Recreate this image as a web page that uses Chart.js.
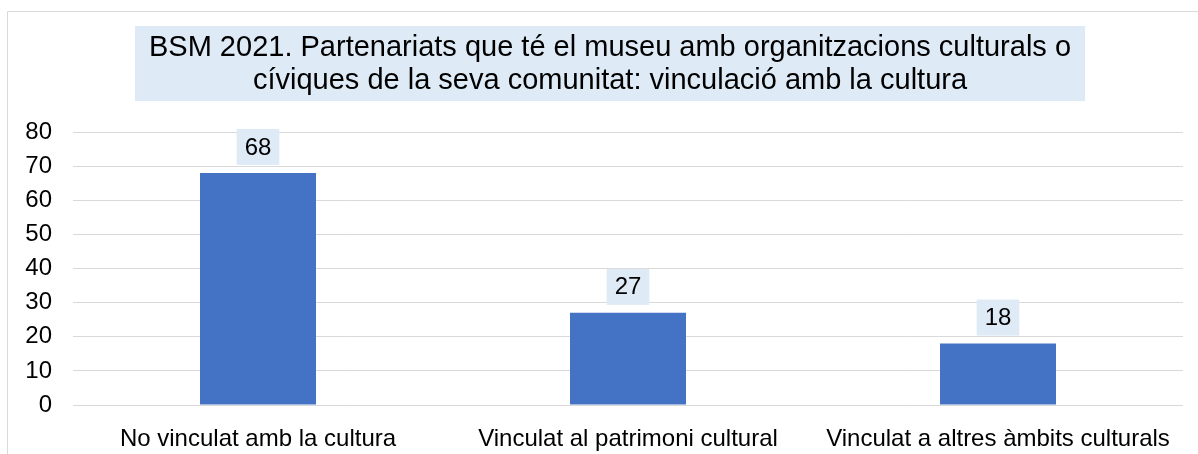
<!DOCTYPE html>
<html>
<head>
<meta charset="utf-8">
<script src="https://cdn.jsdelivr.net/npm/chart.js@4/dist/chart.umd.min.js"></script>
<style>
  body { margin: 0; background: #fff; }
  #wrap { position: relative; width: 1198px; height: 454px; }
</style>
</head>
<body>
<div id="wrap"><canvas id="plot1"></canvas></div>
<script>
const categories = ["No vinculat amb la cultura", "Vinculat al patrimoni cultural", "Vinculat a altres àmbits culturals"];
const values = [68, 27, 18];
const titleLines = ["BSM 2021. Partenariats que té el museu amb organitzacions culturals o", "cíviques de la seva comunitat: vinculació amb la cultura"];
const yTicks = [0, 10, 20, 30, 40, 50, 60, 70, 80];

const FONT = "'Liberation Sans', Arial, sans-serif";
const LIGHT_BLUE = "#DEEAF6";
const TITLE_SIZE = 29;
const TITLE_LINE = 33;

// outer frame (only top and left edges are visible in the picture)
const framePlugin = {
    id: "frame",
    beforeDraw(chart) {
        const ctx = chart.ctx;
        ctx.save();
        ctx.strokeStyle = "#d9d9d9";
        ctx.lineWidth = 1;
        ctx.beginPath();
        ctx.moveTo(7.5, chart.height);
        ctx.lineTo(7.5, 11.5);
        ctx.lineTo(chart.width, 11.5);
        ctx.stroke();
        ctx.restore();
    }
};

// move the title a bit to the right (as in the original) and shade a box behind it
const titleBoxPlugin = {
    id: "titleBox",
    afterLayout(chart) {
        const tb = chart.titleBlock;
        if (!tb) return;
        tb.left = chart.chartArea.left - 36;
        tb.right = chart.chartArea.right;
    },
    beforeDraw(chart) {
        const tb = chart.titleBlock;
        if (!tb) return;
        const ctx = chart.ctx;
        ctx.save();
        ctx.font = TITLE_SIZE + "px " + FONT;
        let w = 0;
        titleLines.forEach(l => { w = Math.max(w, ctx.measureText(l).width); });
        const cx = (tb.left + tb.right) / 2;
        const top = tb.top + tb.options.padding.top - 5;
        const h = titleLines.length * TITLE_LINE + 9;
        ctx.fillStyle = LIGHT_BLUE;
        ctx.fillRect(cx - w / 2 - 14, top, w + 28, h);
        ctx.restore();
    }
};

// value labels in small shaded boxes above the bars
const valueLabelPlugin = {
    id: "valueLabels",
    afterDatasetsDraw(chart) {
        const ctx = chart.ctx;
        const meta = chart.getDatasetMeta(0);
        ctx.save();
        ctx.font = "24px " + FONT;
        ctx.textAlign = "center";
        ctx.textBaseline = "middle";
        meta.data.forEach((bar, i) => {
            const txt = String(values[i]);
            const w = ctx.measureText(txt).width + 16;
            const h = 36;
            const bottom = bar.y - 8;
            ctx.fillStyle = LIGHT_BLUE;
            ctx.fillRect(bar.x - w / 2, bottom - h, w, h);
            ctx.fillStyle = "#000";
            ctx.fillText(txt, bar.x, bottom - h / 2 + 1);
        });
        ctx.restore();
    }
};

new Chart(document.getElementById("plot1").getContext("2d"), {
    type: "bar",
    data: {
        labels: categories,
        datasets: [{
            data: values,
            backgroundColor: "#4472C4",
            categoryPercentage: 1,
            barPercentage: 0.3135
        }]
    },
    plugins: [framePlugin, titleBoxPlugin, valueLabelPlugin],
    options: {
        responsive: true,
        maintainAspectRatio: false,
        animation: false,
        layout: { padding: { left: 0, right: 15, top: 0, bottom: 0 } },
        plugins: {
            legend: { display: false },
            tooltip: { enabled: false },
            title: {
                display: true,
                text: titleLines,
                color: "#000",
                font: { family: FONT, size: TITLE_SIZE, weight: "normal", lineHeight: TITLE_LINE / TITLE_SIZE },
                padding: { top: 31, bottom: 35 }
            }
        },
        scales: {
            x: {
                grid: { display: false },
                border: { display: false },
                ticks: { color: "#000", font: { family: FONT, size: 24 }, padding: 12, maxRotation: 0 },
                afterFit(scale) { scale.height = 49; }
            },
            y: {
                min: 0,
                max: 80,
                afterBuildTicks(scale) { scale.ticks = yTicks.map(v => ({ value: v })); },
                grid: { color: "#d9d9d9", lineWidth: 1, drawTicks: false },
                border: { display: false },
                ticks: { color: "#000", font: { family: FONT, size: 24 }, padding: 21 },
                afterFit(scale) { scale.width = 73; }
            }
        }
    }
});
</script>
</body>
</html>
